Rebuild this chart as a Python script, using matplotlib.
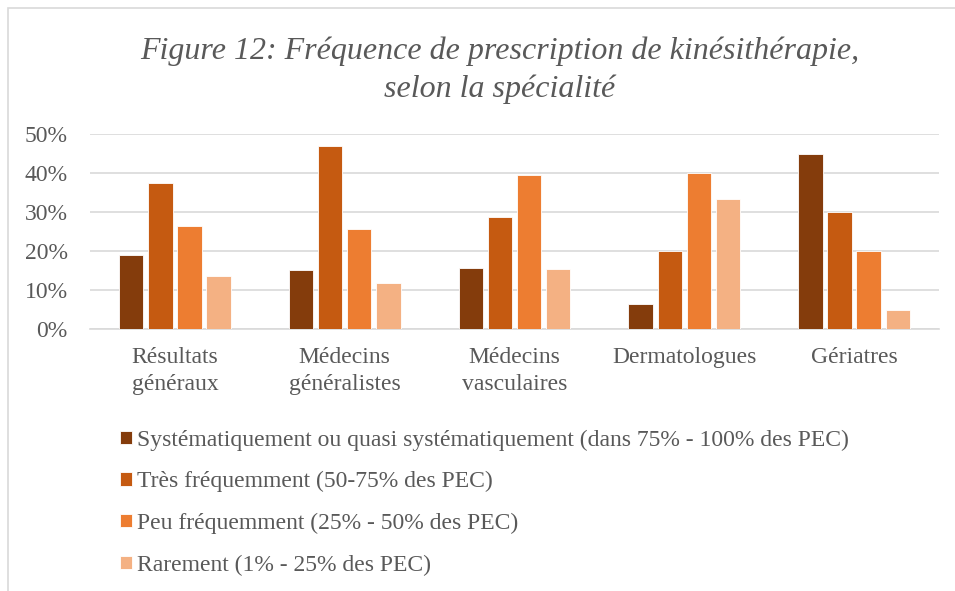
import matplotlib
matplotlib.use("Agg")
import matplotlib.pyplot as plt
import matplotlib.patches as mpatches
import numpy as np

# data
categories = ["Résultats\ngénéraux", "Médecins\ngénéralistes", "Médecins\nvasculaires",
              "Dermatologues", "Gériatres"]
series_names = [
    "Systématiquement ou quasi systématiquement (dans 75% - 100% des PEC)",
    "Très fréquemment (50-75% des PEC)",
    "Peu fréquemment (25% - 50% des PEC)",
    "Rarement (1% - 25% des PEC)",
]
systematique = [0.190, 0.151, 0.157, 0.065, 0.450]
tres_frequent = [0.374, 0.470, 0.288, 0.200, 0.300]
peu_frequent = [0.265, 0.257, 0.395, 0.400, 0.200]
rarement = [0.137, 0.120, 0.155, 0.333, 0.050]
colors = ["#843C0C", "#C55A11", "#ED7D31", "#F4B183"]

title = "Figure 12: Fréquence de prescription de kinésithérapie,\nselon la spécialité"
text_col = "#595959"
grid_col = "#D9D9D9"

plt.rcParams['font.family'] = ['Liberation Serif', 'DejaVu Serif']

fig = plt.figure(figsize=(9.55, 5.91), dpi=100)

# chart border (light gray, top and left visible)
fig.patches.append(mpatches.Rectangle((8/955, -0.1), 1.2, 1 - 8/591 + 0.1,
                                      transform=fig.transFigure, fill=False,
                                      edgecolor=grid_col, linewidth=1.2))

ax = fig.add_axes([90/955, 1 - 329.3/591, (939 - 90)/955, (329.3 - 134.3)/591])

x = np.arange(len(categories))
slot = 0.1716
bw = 0.144
all_series = [systematique, tres_frequent, peu_frequent, rarement]
handles = []
for i, vals in enumerate(all_series):
    b = ax.bar(x + (i - 1.5) * slot, vals, width=bw, color=colors[i],
               edgecolor="white", linewidth=0.6, zorder=3, label=series_names[i])
    handles.append(b)

ax.set_xlim(-0.5, len(categories) - 0.5)
ax.set_ylim(0, 0.5)
ax.set_yticks([0, 0.1, 0.2, 0.3, 0.4, 0.5])
ax.set_yticklabels(["0%", "10%", "20%", "30%", "40%", "50%"])
ax.yaxis.grid(True, color=grid_col, linewidth=1.2, zorder=0)
ax.set_xticks(x)
ax.set_xticklabels(categories, linespacing=1.33)
for s in ["top", "right", "left"]:
    ax.spines[s].set_visible(False)
ax.spines["bottom"].set_color(grid_col)
ax.spines["bottom"].set_linewidth(1.2)
ax.tick_params(axis="both", length=0, colors=text_col, labelsize=17)
ax.tick_params(axis="x", pad=13)
ax.tick_params(axis="y", pad=16)

fig.text(500/955, 1 - 70/591, title, ha="center", va="center", style="italic",
         fontsize=23, color=text_col, linespacing=1.4)

leg = fig.legend(handles=handles, labels=series_names, loc="upper left",
                 bbox_to_anchor=(111/955, 1 - 420/591), frameon=False,
                 fontsize=17, labelcolor=text_col, handlelength=0.5,
                 handleheight=0.5, handletextpad=0.2, labelspacing=0.87,
                 borderaxespad=0)

fig.savefig("out.png", dpi=100)
